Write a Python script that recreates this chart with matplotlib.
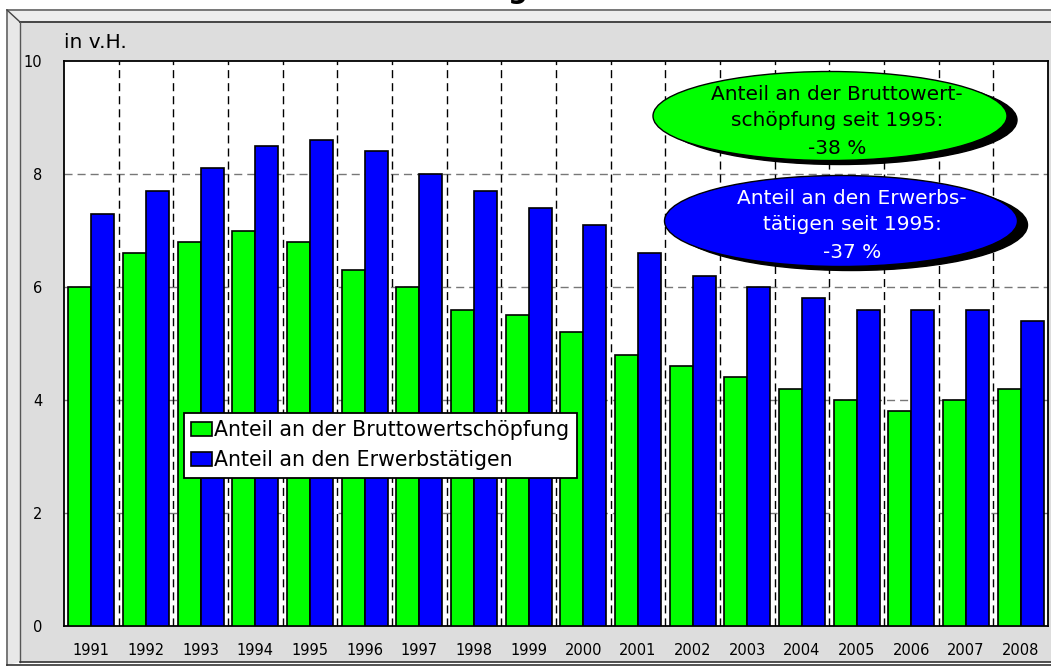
import matplotlib
matplotlib.use("Agg")
import matplotlib.pyplot as plt
from matplotlib.patches import Polygon, Rectangle, Ellipse
import numpy as np

years = ["1991", "1992", "1993", "1994", "1995", "1996", "1997", "1998", "1999",
         "2000", "2001", "2002", "2003", "2004", "2005", "2006", "2007", "2008"]
anteil_bws = [6.0, 6.6, 6.8, 7.0, 6.8, 6.3, 6.0, 5.6, 5.5, 5.2, 4.8, 4.6, 4.4,
              4.2, 4.0, 3.8, 4.0, 4.2]
anteil_erw = [7.3, 7.7, 8.1, 8.5, 8.6, 8.4, 8.0, 7.7, 7.4, 7.1, 6.6, 6.2, 6.0,
              5.8, 5.6, 5.6, 5.6, 5.4]
series_labels = ["Anteil an der Bruttowertschöpfung", "Anteil an den Erwerbstätigen"]
yticks = [0, 2, 4, 6, 8, 10]
note_bws = ["Anteil an der Bruttowert-", "schöpfung seit 1995:", "-38 %"]
note_erw = ["Anteil an den Erwerbs-", "tätigen seit 1995:", "-37 %"]

W, H = 1051, 666
plt.rcParams['font.family'] = ['DejaVu Sans']
fig = plt.figure(figsize=(W / 100, H / 100), dpi=100)
fig.patch.set_facecolor("white")

def fx(x):
    return x / W

def fy(y):
    return 1 - y / H

# background frame in pixel coordinates
bg = fig.add_axes([0, 0, 1, 1])
bg.set_xlim(0, W)
bg.set_ylim(H, 0)
bg.axis("off")
bg.set_zorder(-5)
bg.add_patch(Polygon([(7, 10), (W + 5, 10), (W + 5, 22), (20, 22)],
                     closed=True, facecolor="#EDEDED", edgecolor="none"))
bg.add_patch(Polygon([(7, 10), (20, 22), (20, 662), (7, 665)],
                     closed=True, facecolor="#E8E8E8", edgecolor="none"))
bg.add_patch(Rectangle((20, 22), W, 640, facecolor="#DDDDDD", edgecolor="none"))
bg.plot([7, W + 5], [10, 10], color="#777777", lw=1.4)
bg.plot([7, 7], [10, 665], color="#777777", lw=1.4)
bg.plot([7, 20], [10, 22], color="#444444", lw=1.0)
bg.plot([20, W + 5], [22, 22], color="#444444", lw=1.4)
bg.plot([20, 20], [22, 662], color="#555555", lw=1.0)
bg.plot([20, W + 5], [662, 662], color="#333333", lw=1.2)
bg.plot([7, W + 5], [665, 665], color="#333333", lw=1.2)

# partially visible title glyph at the top edge
fig.text(fx(518), 1 + 2.5 / H, "g", fontsize=20, fontweight="bold",
         ha="center", va="baseline")

# main axes
ax = fig.add_axes([fx(64), fy(626), fx(1048) - fx(64), fy(61) - fy(626)])
ax.set_facecolor("white")
x = np.arange(len(years))
bw = 0.42
ax.bar(x - bw / 2, anteil_bws, width=bw, color="#00FF00", edgecolor="black",
       linewidth=1.2, zorder=3, label=series_labels[0])
ax.bar(x + bw / 2, anteil_erw, width=bw, color="#0000FF", edgecolor="black",
       linewidth=1.2, zorder=3, label=series_labels[1])
ax.set_xlim(-0.5, len(years) - 0.5)
ax.set_ylim(0, 10)
for yv in yticks[1:-1]:
    ax.axhline(yv, color="#777777", lw=1.0, ls=(0, (5.8, 3.6)), zorder=1)
for xv in np.arange(0.5, len(years) - 0.5, 1.0):
    ax.axvline(xv, color="black", lw=1.0, ls=(0, (5.8, 3.6)), zorder=1)
ax.set_yticks(yticks)
ax.set_yticklabels([str(v) for v in yticks], fontsize=10.5)
ax.set_xticks(x)
ax.set_xticklabels(years, fontsize=10.5)
ax.tick_params(axis="both", length=0)
ax.tick_params(axis="y", pad=15.5)
ax.tick_params(axis="x", pad=12)
for s in ax.spines.values():
    s.set_color("black")
    s.set_linewidth(1.3)

fig.text(fx(64), fy(42), "in v.H.", fontsize=14.5, ha="left", va="center")

leg = ax.legend(loc="upper left", bbox_to_anchor=(fx(184), fy(413)),
                bbox_transform=fig.transFigure, borderaxespad=0,
                fontsize=14.8, frameon=True, fancybox=False, framealpha=1,
                edgecolor="black", handlelength=1.0, handleheight=0.65,
                handletextpad=0.12, borderpad=0.35, labelspacing=0.5)
leg.get_frame().set_linewidth(1.3)
leg.set_zorder(10)

# ellipse annotations with shadows
def note(cx, cy, w, h, color, lines, tx, ty, tcolor):
    sh = Ellipse((fx(cx + 10), fy(cy + 4)), fx(w), h / H, transform=fig.transFigure,
                 facecolor="black", edgecolor="black", zorder=20)
    el = Ellipse((fx(cx), fy(cy)), fx(w), h / H, transform=fig.transFigure,
                 facecolor=color, edgecolor="black", lw=1.0, zorder=21)
    fig.add_artist(sh)
    fig.add_artist(el)
    for i, line in enumerate(lines):
        t = fig.text(fx(tx), fy(ty + 27 * i), line, fontsize=14.5, color=tcolor,
                     ha="center", va="center")
        t.set_zorder(22)

note(830, 116, 354, 89, "#00FF00", note_bws, 837, 94, "black")
note(841, 221, 353, 91, "#0000FF", note_erw, 852, 198, "white")

fig.savefig("out.png", dpi=100)
